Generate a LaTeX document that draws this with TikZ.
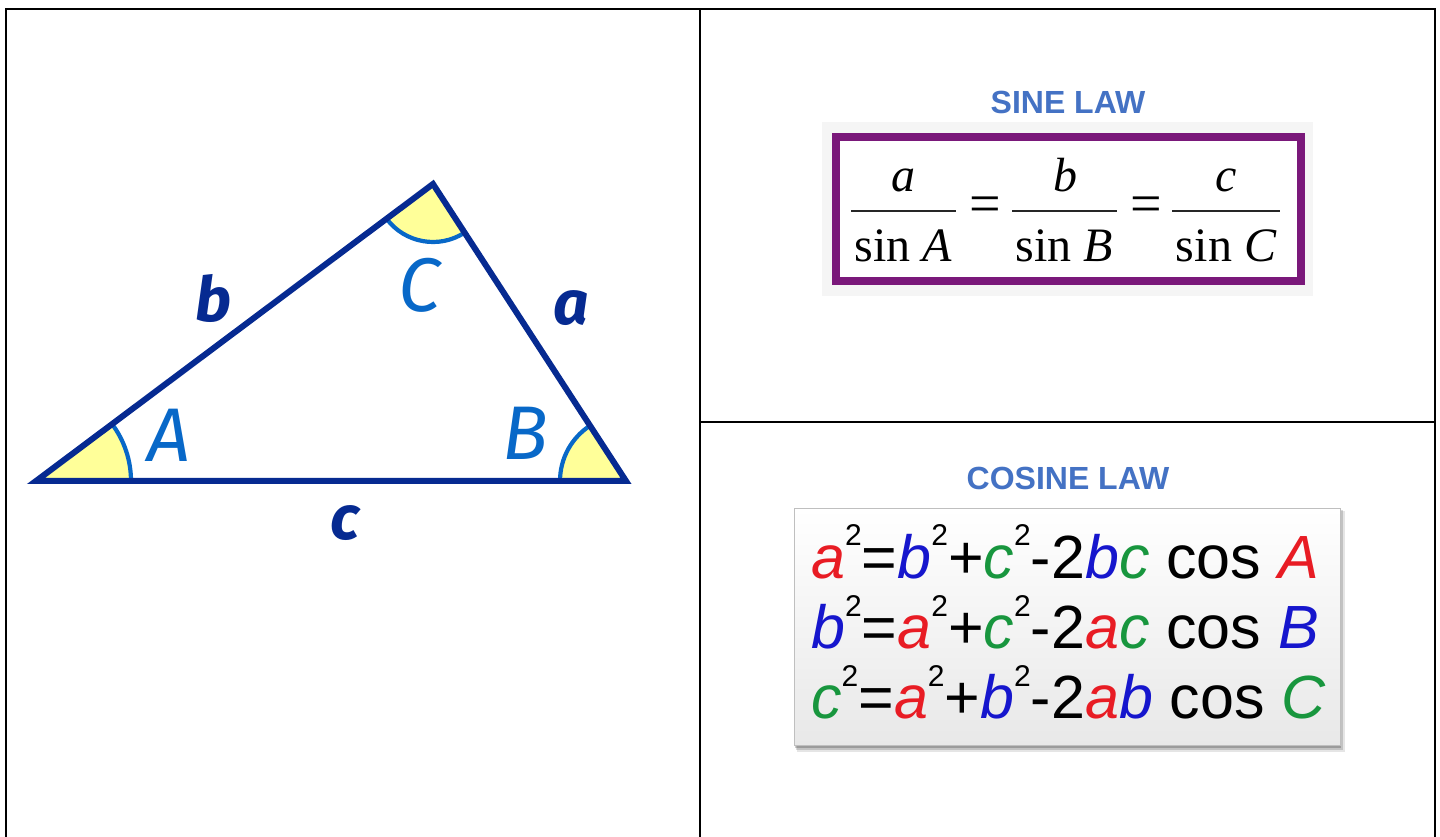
\documentclass[tikz,border=0pt]{standalone}
\usepackage{fontspec}
\setmainfont{Liberation Serif}
\newfontfamily\arialf{Liberation Sans}
\newfontfamily\firaf{Fira Sans}
\definecolor{tridark}{RGB}{6,42,145}
\definecolor{trilight}{RGB}{8,104,200}
\definecolor{angyellow}{RGB}{255,255,153}
\definecolor{titleblue}{RGB}{68,114,196}
\definecolor{sinepurple}{RGB}{122,24,122}
\definecolor{cred}{RGB}{232,28,36}
\definecolor{cblu}{RGB}{22,22,205}
\definecolor{cgrn}{RGB}{24,150,62}
\newcommand{\sqr}[2]{{\color{#1}\itshape #2}\kern0pt\raisebox{32pt}{\fontsize{30}{30}\selectfont\color{black}2}}
\newcommand{\cl}[2]{{\color{#1}\itshape #2}}
\begin{document}
\begin{tikzpicture}[x=1pt,y=1pt,
  tbl/.style={line width=2.6pt,black},
  tri/.style={line width=6pt,tridark,line join=miter,miter limit=20},
  angarc/.style={line width=4.2pt,trilight},
  angfill/.style={fill=angyellow},
  sidelbl/.style={anchor=base,text=tridark,font=\firaf\itshape\bfseries\fontsize{62}{66}\selectfont},
  anglbl/.style={anchor=base,text=trilight,font=\firaf\itshape\fontsize{76}{80}\selectfont},
  lawtitle/.style={anchor=base,text=titleblue,font=\arialf\bfseries\fontsize{32}{36}\selectfont},
  sinetxt/.style={anchor=base,inner sep=0pt,font=\fontsize{48}{50}\selectfont},
  sineeq/.style={anchor=center,inner sep=0pt,font=\fontsize{56}{58}\selectfont},
  fracbar/.style={line width=2.8pt,black!85},
  cosline/.style={anchor=base west,inner sep=0pt,font=\arialf\fontsize{61}{63}\selectfont}
]
\useasboundingbox (0,0) rectangle (1440,836);
\clip (0,0) rectangle (1440,836);
\fill[white] (0,0) rectangle (1440,836);

% table frame
\draw[tbl] (6,-10) -- (6,827) -- (1435,827) -- (1435,-10);
\draw[tbl] (700,827) -- (700,-10);
\draw[tbl] (700,414) -- (1435,414);

% triangle
\coordinate (A) at (36,355);
\coordinate (C) at (433,652);
\coordinate (B) at (626,355);
\fill[angfill] (A) -- ++(0:95) arc[start angle=0,end angle=36.8,radius=95] -- cycle;
\fill[angfill] (B) -- ++(123.1:66) arc[start angle=123.1,end angle=180,radius=66] -- cycle;
\fill[angfill] (C) -- ++(216.8:58) arc[start angle=216.8,end angle=303.1,radius=58] -- cycle;
\draw[angarc] (A) ++(0:95) arc[start angle=0,end angle=36.8,radius=95];
\draw[angarc] (B) ++(123.1:66) arc[start angle=123.1,end angle=180,radius=66];
\draw[angarc] (C) ++(216.8:58) arc[start angle=216.8,end angle=303.1,radius=58];
\draw[tri] (A) -- (C) -- (B) -- cycle;

\node[sidelbl] (lb) at (214,514) {b};
\node[sidelbl] (la) at (571,511) {a};
\node[sidelbl] (lc) at (345,296) {c};
\node[anglbl] (lA) at (169,374) {A};
\node[anglbl] (lB) at (525,376) {B};
\node[anglbl] (lC) at (420,524) {C};

% sine law
\node[lawtitle] (sinetitle) at (1068,722) {SINE LAW};
\fill[black!4] (822,540) rectangle (1313,714);
\draw[line width=8pt,sinepurple] (836,555) rectangle (1301,699);
\fill[white] (840,559) rectangle (1297,695);
\draw[fracbar] (851,625) -- (956,625);
\draw[fracbar] (1012,625) -- (1117,625);
\draw[fracbar] (1172,625) -- (1280,625);
\node[sinetxt] (na) at (903,644) {\itshape a};
\node[sinetxt] (nb) at (1065,644) {\itshape b};
\node[sinetxt] (nc) at (1226,644) {\itshape c};
\node[sinetxt] (da) at (903,574) {sin \itshape A};
\node[sinetxt] (db) at (1064,574) {sin \itshape B};
\node[sinetxt] (dc) at (1226,574) {sin \itshape C};
\node[sineeq] (eq1) at (985,626) {=};
\node[sineeq] (eq2) at (1146,626) {=};

% cosine law
\node[lawtitle] (costitle) at (1068,346) {COSINE LAW};
\fill[black,opacity=0.10] (797,84) rectangle (1345,325);
\fill[black,opacity=0.15] (796,86) rectangle (1343,326);
\fill[black,opacity=0.20] (795,88) rectangle (1341,327);
\shade[top color=white,bottom color=black!9] (794,91) rectangle (1340,328);
\draw[black!25,line width=0.8pt] (794,91) rectangle (1340,328);
\node[cosline] (cos1) at (811,258) {\sqr{cred}{a}=\sqr{cblu}{b}+\sqr{cgrn}{c}-2\cl{cblu}{b}\cl{cgrn}{c} cos \cl{cred}{A}};
\node[cosline] (cos2) at (811,188) {\sqr{cblu}{b}=\sqr{cred}{a}+\sqr{cgrn}{c}-2\cl{cred}{a}\cl{cgrn}{c} cos \cl{cblu}{B}};
\node[cosline] (cos3) at (811,118) {\sqr{cgrn}{c}=\sqr{cred}{a}+\sqr{cblu}{b}-2\cl{cred}{a}\cl{cblu}{b} cos \cl{cgrn}{C}};
\end{tikzpicture}
\end{document}
